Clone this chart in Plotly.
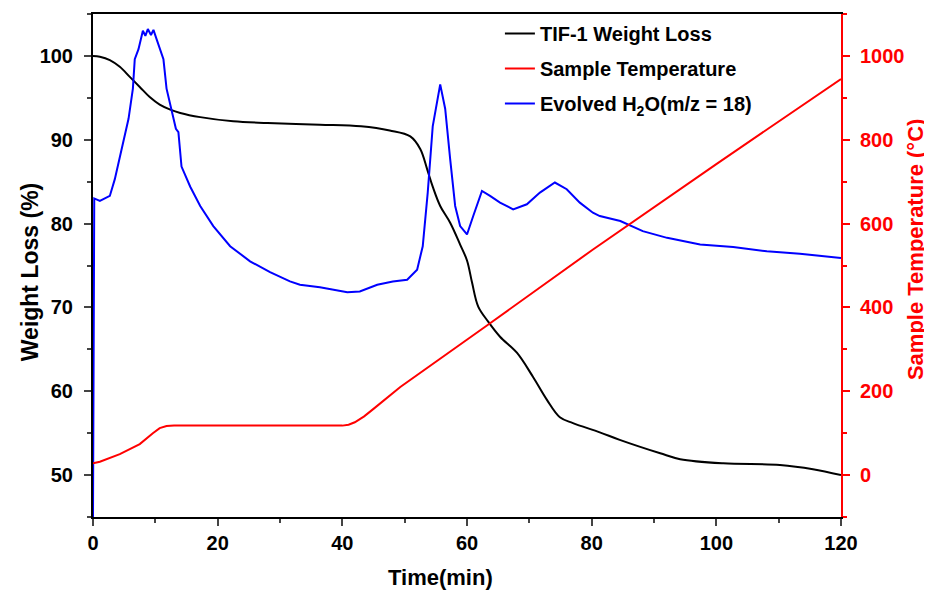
import plotly.graph_objects as go

# TIF-1 weight loss (%)
time_w = [0, 1.1, 2.7, 4.3, 5.9, 7.5, 9.1, 10.7, 12.4, 14.0, 17.2, 22.5, 28.0, 36.4,
          43.0, 47.6, 50.9, 52.5, 53.6, 54.5, 55.7, 57.3, 58.9, 60.0, 60.8, 61.8,
          63.4, 65.3, 68.0, 70.6, 72.8, 74.9, 77.0, 81.3, 84.5, 91.0, 94.2, 101.1,
          110.2, 115.5, 120]
weight = [100, 99.9, 99.5, 98.7, 97.5, 96.3, 95.1, 94.2, 93.6, 93.2, 92.7, 92.2, 92.0, 91.8,
          91.6, 91.1, 90.4, 88.9, 86.5, 84.4, 82.1, 80.1, 77.5, 75.6, 73.0, 70.1,
          68.3, 66.5, 64.6, 61.7, 59.0, 56.9, 56.2, 55.1, 54.2, 52.6, 51.9, 51.4,
          51.2, 50.7, 50.0]

# sample temperature (°C)
time_t = [0, 1.1, 4.3, 7.5, 9.6, 10.7, 11.8, 13.0, 40.0, 41.0, 42.0, 43.5, 45.0, 49.3,
          63.2, 80.1, 100, 120]
temp = [28, 32, 50, 74, 100, 112, 117, 118, 118, 120, 126, 140, 158, 210,
        357, 537, 742, 945]

# evolved H2O (m/z = 18), drawn against the left axis scale
time_h = [0, 0.2, 1.1, 2.7, 3.5, 4.6, 5.7, 6.4, 6.7, 7.3, 8.0, 8.4, 8.8, 9.3, 9.7,
          10.2, 11.3, 11.8, 12.5, 13.3, 13.7, 14.2, 15.6, 17.2, 19.3, 22.0, 25.2,
          28.4, 31.6, 33.2, 36.4, 40.8, 42.8, 45.6, 48.1, 50.4, 52.0, 52.9, 53.7,
          54.5, 55.7, 56.5, 57.3, 58.1, 58.9, 60.0, 61.0, 62.4, 63.7, 65.3, 67.4,
          69.6, 71.7, 74.1, 76.0, 78.1, 80.2, 81.3, 84.6, 88.2, 92.1, 97.4, 102.7,
          108.1, 113.4, 120]
h2o = [45, 83.0, 82.7, 83.3, 85.3, 88.9, 92.5, 96.1, 99.6, 100.8, 103.0, 102.4, 103.2,
       102.5, 103.1, 102.0, 99.6, 96.1, 93.7, 91.3, 90.9, 86.8, 84.4, 82.1, 79.7,
       77.3, 75.5, 74.2, 73.1, 72.7, 72.4, 71.8, 71.9, 72.7, 73.1, 73.3, 74.5, 77.3,
       83.7, 91.6, 96.6, 93.7, 87.7, 82.1, 79.7, 78.7, 80.9, 83.9, 83.3, 82.5, 81.7,
       82.3, 83.7, 84.9, 84.1, 82.5, 81.3, 80.9, 80.3, 79.1, 78.3, 77.5, 77.2, 76.7,
       76.4, 75.9]

font = "Liberation Sans, Arial, sans-serif"
red = "#ff0000"

fig = go.Figure()
fig.add_trace(go.Scatter(x=time_w, y=weight, mode="lines", name="TIF-1 Weight Loss",
                         line=dict(color="black", width=2), line_shape="spline",
                         legendgroup="a"))
fig.add_trace(go.Scatter(x=time_t, y=temp, mode="lines", name="Sample Temperature",
                         line=dict(color=red, width=2),
                         yaxis="y2", legendgroup="b"))
fig.add_trace(go.Scatter(x=time_h, y=h2o, mode="lines",
                         name="Evolved H<sub>2</sub>O(m/z = 18)",
                         line=dict(color="#0000ff", width=2), legendgroup="c"))

# the page sits 8px in from the window corner, so the figure is a little smaller
fig.update_layout(
    width=924, height=586,
    margin=dict(l=85, r=91, t=6, b=77),
    plot_bgcolor="white", paper_bgcolor="white",
    font=dict(family=font, size=20, color="black", weight="bold"),
    xaxis=dict(range=[0, 120], dtick=20, ticks="outside", ticklen=7, tickwidth=2,
               showline=True, linewidth=2, linecolor="black", mirror=True,
               showgrid=False, zeroline=False, automargin=False,
               minor=dict(dtick=10, ticks="outside", ticklen=4, tickwidth=2)),
    yaxis=dict(range=[45, 105], dtick=10, ticks="outside", ticklen=7, tickwidth=2,
               showline=True, linewidth=2, linecolor="black",
               showgrid=False, zeroline=False, automargin=False,
               ticklabelstandoff=7,
               minor=dict(dtick=5, ticks="outside", ticklen=4, tickwidth=2)),
    yaxis2=dict(range=[-100, 1100], dtick=200, overlaying="y", side="right",
                ticks="outside", ticklen=7, tickwidth=2, tickcolor=red,
                showline=True, linewidth=2, linecolor=red,
                showgrid=False, zeroline=False, automargin=False,
                tickfont=dict(color=red), ticklabelstandoff=6,
                minor=dict(dtick=100, ticks="outside", ticklen=4, tickwidth=2,
                           tickcolor=red)),
    legend=dict(x=0.544, y=1.0, xanchor="left", yanchor="top",
                bgcolor="rgba(0,0,0,0)", tracegroupgap=6,
                font=dict(size=20)),
    showlegend=True,
)

# axis titles placed as annotations to match the original positions
fig.add_annotation(text="Time(min)", xref="paper", yref="paper", x=0.464, y=-0.121,
                   showarrow=False, font=dict(size=22), xanchor="center", yanchor="middle")
fig.add_annotation(text="Weight Loss (%)", xref="paper", yref="paper", x=-0.084, y=0.487,
                   showarrow=False, textangle=-90, font=dict(size=23),
                   xanchor="center", yanchor="middle")
fig.add_annotation(text="Sample Temperature (°C)", xref="paper", yref="paper",
                   x=1.1005, y=0.531, showarrow=False, textangle=-90,
                   font=dict(size=22, color=red), xanchor="center", yanchor="middle")

fig.write_html("out.html")
